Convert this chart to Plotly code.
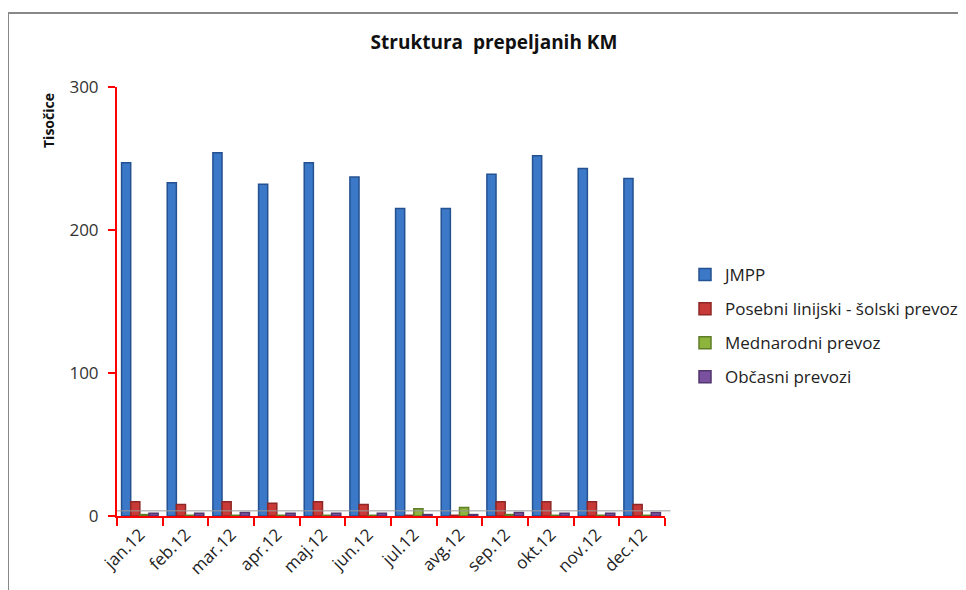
import plotly.graph_objects as go

months = ["jan.12", "feb.12", "mar.12", "apr.12", "maj.12", "jun.12",
          "jul.12", "avg.12", "sep.12", "okt.12", "nov.12", "dec.12"]
jmpp = [247, 233, 254, 232, 247, 237, 215, 215, 239, 252, 243, 236]
posebni = [10, 8, 10, 9, 10, 8, 0.5, 0.5, 10, 10, 10, 8]
mednarodni = [1, 0.5, 0.5, 0.5, 0.5, 0.5, 5, 6, 1, 0.5, 0.5, 0.5]
obcasni = [2, 2, 2.5, 2, 2, 2, 1, 1, 2.5, 2, 2, 2.5]

series = [
    ("JMPP", jmpp, "#3B78C8", "#24518F"),
    ("Posebni linijski - šolski prevoz", posebni, "#C83A37", "#8E2725"),
    ("Mednarodni prevoz", mednarodni, "#8DB43C", "#5F7C27"),
    ("Občasni prevozi", obcasni, "#7A519F", "#523670"),
]

fig = go.Figure()
for name, vals, col, edge in series:
    fig.add_trace(go.Bar(
        x=months, y=vals, name=name, legendgroup=name,
        marker=dict(color=col, line=dict(color=edge, width=1.5)),
    ))

font = "'Open Sans', 'Liberation Sans', sans-serif"

W, H = 958, 582          # page body has an 8px margin
L, R, T, B = 109, 301, 79, 74
PW, PH = W - L - R, H - T - B


def px(x):
    return (x - L) / PW


def py(y):
    return (H - B - y) / PH


fig.update_layout(
    width=W, height=H,
    paper_bgcolor="white", plot_bgcolor="white",
    margin=dict(l=L, r=R, t=T, b=B, autoexpand=False),
    barmode="group", bargap=0.2, bargroupgap=0.0,
    font=dict(family=font, size=17, color="#333333"),
    title=dict(text="<b>Struktura  prepeljanih KM</b>", x=486 / W, xanchor="center",
               y=1 - 34 / H, yanchor="middle", font=dict(size=19, color="#111111")),
    legend=dict(x=px(677), xanchor="left", y=py(318), yanchor="middle",
                font=dict(size=17, color="#222222"), tracegroupgap=9,
                itemwidth=30),
    xaxis=dict(
        showline=True, linecolor="#FF0000", linewidth=2,
        ticks="outside", tickcolor="#FF0000", ticklen=8, tickwidth=2,
        tickson="boundaries", tickangle=-45, range=[-0.5, 11.5],
        showgrid=False, tickfont=dict(size=17, color="#222222"),
    ),
    yaxis=dict(
        range=[0, 300], tickvals=[0, 100, 200, 300],
        showline=True, linecolor="#FF0000", linewidth=2,
        ticks="outside", tickcolor="#FF0000", ticklen=7, tickwidth=2,
        ticklabelstandoff=6,
        showgrid=False, zeroline=False, tickfont=dict(size=17, color="#333333"),
    ),
    annotations=[dict(
        text="<b>Tisočice</b>", textangle=-90, xref="paper", yref="paper",
        x=px(40), y=py(113), xanchor="center", yanchor="middle", showarrow=False,
        font=dict(size=14, color="#111111"),
    )],
)
# chart-area border (top and left)
fig.add_shape(type="line", xref="paper", yref="paper",
              x0=px(0), x1=px(W), y0=py(5), y1=py(5),
              line=dict(color="#888888", width=2))
fig.add_shape(type="line", xref="paper", yref="paper",
              x0=px(0), x1=px(0), y0=py(H), y1=py(5),
              line=dict(color="#888888", width=2))
# floor line (3D base)
fig.add_shape(type="line", xref="paper", yref="paper",
              x0=0, x1=1.01, y0=0.012, y1=0.012,
              line=dict(color="#999999", width=1))

fig.write_html("out.html")
